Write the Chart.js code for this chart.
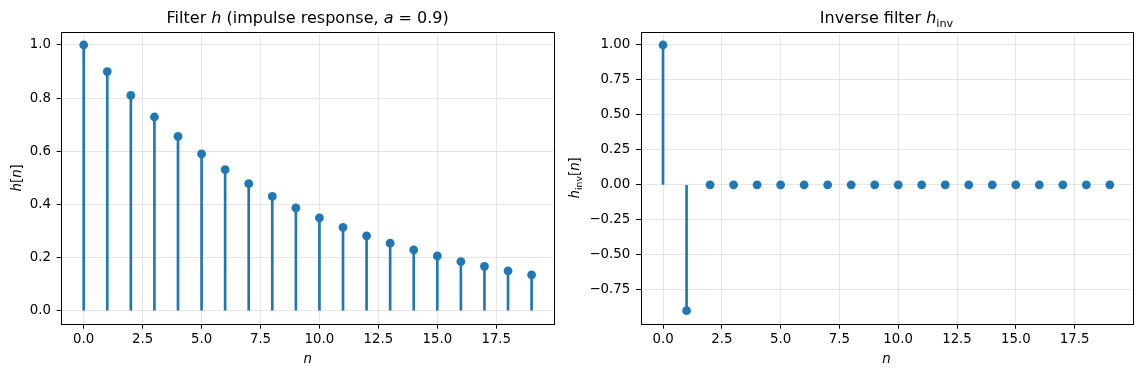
<!DOCTYPE html>
<html><head><meta charset="utf-8">
<script src="https://cdn.jsdelivr.net/npm/chart.js@4.4.0/dist/chart.umd.min.js"></script>
<style>
html,body{margin:0;padding:0;background:#fff;width:1142px;height:374px;overflow:hidden;}
canvas{position:absolute;top:0;}
#c1{left:0}
#c2{left:565px}
</style></head><body>
<canvas id="c1" width="565" height="374"></canvas>
<canvas id="c2" width="577" height="374"></canvas>
<script>
// ---- data ----
const nValues = [0,1,2,3,4,5,6,7,8,9,10,11,12,13,14,15,16,17,18,19];
const hValues = [1.0,0.9,0.81,0.729,0.656,0.59,0.531,0.478,0.43,0.387,0.349,0.314,0.282,0.254,0.229,0.206,0.185,0.167,0.150,0.135];
const hInvValues = [1.0,-0.9,0,0,0,0,0,0,0,0,0,0,0,0,0,0,0,0,0,0];
const xTicks = [0,2.5,5,7.5,10,12.5,15,17.5];
const xTickLabels = ['0.0','2.5','5.0','7.5','10.0','12.5','15.0','17.5'];
const leftYTicks = [0,0.2,0.4,0.6,0.8,1.0];
const leftYTickLabels = ['0.0','0.2','0.4','0.6','0.8','1.0'];
const rightYTicks = [-0.75,-0.5,-0.25,0,0.25,0.5,0.75,1.0];
const rightYTickLabels = ['\u22120.75','\u22120.50','\u22120.25','0.00','0.25','0.50','0.75','1.00'];

const COLOR = '#1f77b4';
const FAM = 'DejaVu Sans';
const TICK_SIZE = 13.33;
const TITLE_SIZE = 16;

function richWidth(ctx, segs, size) {
  let w = 0;
  for (const s of segs) {
    const sz = s.sub ? size * 0.7 : size;
    ctx.font = (s.it ? 'italic ' : '') + sz + 'px "' + FAM + '"';
    w += ctx.measureText(s.t).width;
  }
  return w;
}
function drawRich(ctx, segs, x, y, size, rot) {
  ctx.save();
  ctx.translate(x, y);
  if (rot) ctx.rotate(rot);
  ctx.fillStyle = '#000';
  ctx.textBaseline = 'alphabetic';
  ctx.textAlign = 'left';
  let cx = -richWidth(ctx, segs, size) / 2;
  for (const s of segs) {
    const sz = s.sub ? size * 0.7 : size;
    ctx.font = (s.it ? 'italic ' : '') + sz + 'px "' + FAM + '"';
    ctx.fillText(s.t, cx, s.sub ? size * 0.22 : 0);
    cx += ctx.measureText(s.t).width;
  }
  ctx.restore();
}

function decor(cfg) {
  return {
    id: 'decor',
    afterDraw(chart) {
      const ctx = chart.ctx, a = chart.chartArea;
      ctx.save();
      ctx.strokeStyle = '#000';
      ctx.lineWidth = 1;
      ctx.strokeRect(Math.round(a.left) + 0.5, Math.round(a.top) + 0.5,
                     Math.round(a.right - a.left), Math.round(a.bottom - a.top));
      ctx.restore();
      const cxm = (a.left + a.right) / 2, cym = (a.top + a.bottom) / 2;
      drawRich(ctx, cfg.title, cxm, 23.3, TITLE_SIZE, 0);
      drawRich(ctx, cfg.xlabel, cxm, 363, TICK_SIZE, 0);
      drawRich(ctx, cfg.ylabel, cfg.ylabelX, cym, TICK_SIZE, -Math.PI / 2);
    }
  };
}

function makeChart(id, values, yMin, yMax, yTicks, yTickLabels, yAxisWidth, padRight, cfg) {
  const tickFont = {family: FAM, size: TICK_SIZE};
  return new Chart(document.getElementById(id), {
    type: 'bar',
    data: {
      datasets: [
        {
          type: 'scatter',
          order: 0,
          data: nValues.map((x, i) => ({x: x, y: values[i]})),
          pointRadius: 4.4,
          pointBackgroundColor: COLOR,
          pointBorderWidth: 0,
          showLine: false
        },
        {
          type: 'bar',
          order: 1,
          data: nValues.map((x, i) => ({x: x, y: [0, values[i]]})),
          backgroundColor: COLOR,
          borderWidth: 0,
          barThickness: 2
        }
      ]
    },
    options: {
      responsive: false,
      animation: false,
      devicePixelRatio: 1,
      events: [],
      layout: {padding: {left: 0, right: padRight, top: 31.7, bottom: 0}},
      plugins: {legend: {display: false}, tooltip: {enabled: false}, title: {display: false}},
      scales: {
        x: {
          type: 'linear', min: -0.95, max: 19.95, offset: false,
          afterBuildTicks: s => { s.ticks = xTicks.map(v => ({value: v})); },
          afterFit: s => { s.height = 50; },
          ticks: {autoSkip: false, maxRotation: 0, padding: 3, color: '#000', font: tickFont,
                  callback: (v, i) => xTickLabels[i]},
          grid: {offset: false, color: 'rgba(176,176,176,0.3)', lineWidth: 1, tickColor: '#000', tickLength: 4.7, tickWidth: 1},
          border: {display: false}
        },
        y: {
          type: 'linear', min: yMin, max: yMax,
          afterBuildTicks: s => { s.ticks = yTicks.map(v => ({value: v})); },
          afterFit: s => { s.width = yAxisWidth; },
          ticks: {autoSkip: false, padding: 5.7, color: '#000', font: tickFont,
                  callback: (v, i) => yTickLabels[i]},
          grid: {offset: false, color: 'rgba(176,176,176,0.3)', lineWidth: 1, tickColor: '#000', tickLength: 4.7, tickWidth: 1},
          border: {display: false}
        }
      }
    },
    plugins: [decor(cfg)]
  });
}

makeChart('c1', hValues, -0.05, 1.05, leftYTicks, leftYTickLabels, 61.3, 11, {
  title: [{t: 'Filter '}, {t: 'h', it: true}, {t: ' (impulse response, '}, {t: 'a', it: true}, {t: ' = 0.9)'}],
  xlabel: [{t: 'n', it: true}],
  ylabel: [{t: 'h', it: true}, {t: '['}, {t: 'n', it: true}, {t: ']'}],
  ylabelX: 20.5
});
makeChart('c2', hInvValues, -0.995, 1.095, rightYTicks, rightYTickLabels, 75.7, 9.8, {
  title: [{t: 'Inverse filter '}, {t: 'h', it: true}, {t: 'inv', sub: true}],
  xlabel: [{t: 'n', it: true}],
  ylabel: [{t: 'h', it: true}, {t: 'inv', sub: true}, {t: '['}, {t: 'n', it: true}, {t: ']'}],
  ylabelX: 14
});
</script>
</body></html>
